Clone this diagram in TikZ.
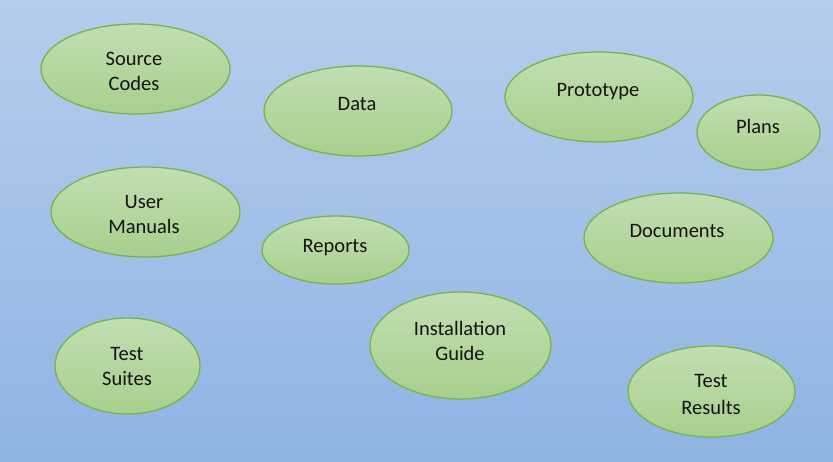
\documentclass[tikz,border=0pt]{standalone}
\usepackage{fontspec}
\setmainfont{Carlito}
\usetikzlibrary{shapes.geometric}
\definecolor{bgtop}{RGB}{181,205,236}
\definecolor{bgbot}{RGB}{142,180,227}
\definecolor{elltop}{RGB}{194,222,178}
\definecolor{ellbot}{RGB}{168,207,140}
\definecolor{ellline}{RGB}{120,180,78}
\definecolor{txt}{RGB}{20,20,20}
\tikzset{
  blob/.style={ellipse, draw=ellline, line width=1.3pt, top color=elltop, bottom color=ellbot, inner sep=0pt},
  lbl/.style={anchor=base, text=txt, font=\fontsize{20.5}{25}\selectfont, inner sep=0pt}
}
\begin{document}
\begin{tikzpicture}[x=1pt,y=-1pt]
\shade[top color=bgtop, bottom color=bgbot] (0,0) rectangle (833,462);
\useasboundingbox (0,0) rectangle (833,462);
% ellipses
\node[blob, minimum width=189pt, minimum height=90pt] (src) at (135.5,69) {};
\node[blob, minimum width=188pt, minimum height=90pt] (data) at (358,111) {};
\node[blob, minimum width=188pt, minimum height=90pt] (proto) at (599,97) {};
\node[blob, minimum width=123pt, minimum height=75pt] (plans) at (758.5,132.5) {};
\node[blob, minimum width=189pt, minimum height=90pt] (um) at (145.5,212) {};
\node[blob, minimum width=147pt, minimum height=68pt] (rep) at (335.5,250) {};
\node[blob, minimum width=189pt, minimum height=90pt] (docs) at (678.5,238) {};
\node[blob, minimum width=145pt, minimum height=96pt] (ts) at (127.5,366) {};
\node[blob, minimum width=181pt, minimum height=107pt] (ig) at (460.5,345.5) {};
\node[blob, minimum width=167pt, minimum height=91pt] (tr) at (711.5,391.5) {};
% labels
\node[lbl] (srcA) at (134,66) {Source};
\node[lbl] (srcB) at (134,91) {Codes};
\node[lbl] (dataA) at (357,111) {Data};
\node[lbl] (protoA) at (598,97) {Prototype};
\node[lbl] (plansA) at (758,134) {Plans};
\node[lbl] (umA) at (144,209) {User};
\node[lbl] (umB) at (144,234) {Manuals};
\node[lbl] (repA) at (335,253) {Reports};
\node[lbl] (docsA) at (677,238) {Documents};
\node[lbl] (tsA) at (127,360) {Test};
\node[lbl] (tsB) at (127,385) {Suites};
\node[lbl] (igA) at (460,336) {Installation};
\node[lbl] (igB) at (460,361) {Guide};
\node[lbl] (trA) at (711,388) {Test};
\node[lbl] (trB) at (711,414) {Results};
\end{tikzpicture}
\end{document}
